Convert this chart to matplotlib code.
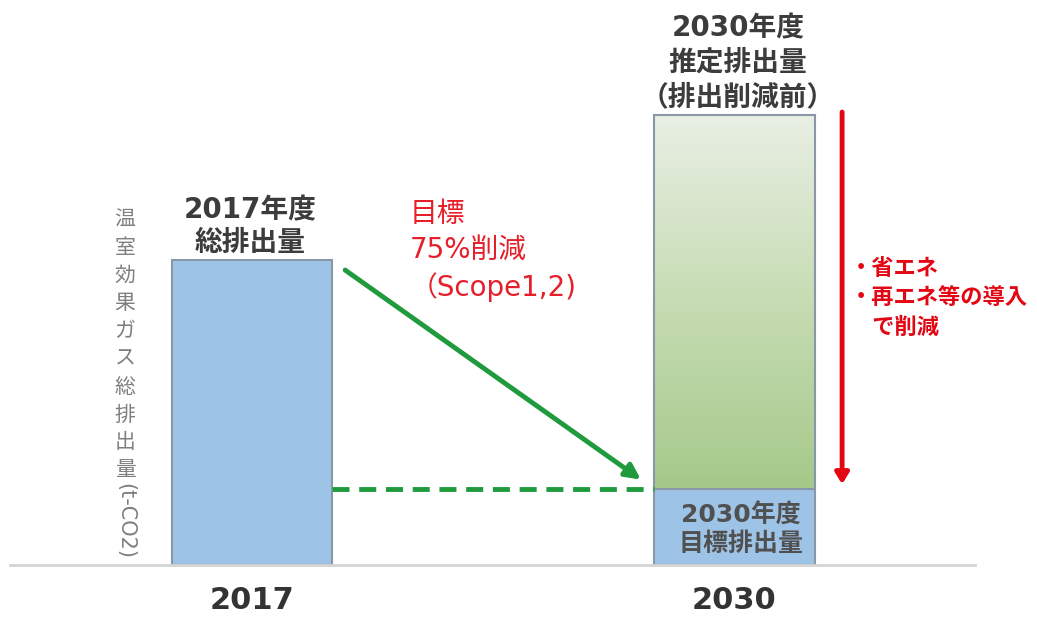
import matplotlib
matplotlib.use("Agg")
import matplotlib.pyplot as plt
import numpy as np
from matplotlib.colors import LinearSegmentedColormap

plt.rcParams['font.family'] = ['DejaVu Sans', 'Noto Sans CJK JP']

# ---- data (relative emissions, 2017 = 100) ----
years = ["2017", "2030"]
total_2017 = 100.0
estimate_2030 = 147.5      # before reduction
target_2030 = 25.0         # 75% reduction
ylabel_chars = list("温室効果ガス総排出量")
ylabel_unit = "(t-CO2)"

W, H = 1037, 620
fig = plt.figure(figsize=(W / 100, H / 100), dpi=100)
# axes placement: baseline at pixel y=565, 3.05 px per unit
XL, XR = (10 - 252) / 482.5, (975 - 252) / 482.5
ax = fig.add_axes([10 / W, 55 / H, (975 - 10) / W, 160 * 3.05 / H])
for s in ["top", "left", "right"]:
    ax.spines[s].set_visible(False)
ax.spines["bottom"].set_color("#d4d4d4")
ax.spines["bottom"].set_linewidth(2)
ax.set_yticks([])
ax.set_xticks([0, 1])
ax.set_xticklabels(years, fontsize=22, fontweight="bold", color="#333333")
ax.tick_params(axis="x", length=0, pad=15)

bw = 0.332
blue = "#9dc3e6"
edge = "#8a97a6"
ax.bar(0, total_2017, width=bw, color=blue, edgecolor=edge, linewidth=1.5, zorder=2)
ax.bar(1, target_2030, width=bw, color=blue, edgecolor=edge, linewidth=1.5, zorder=2)
top_bar = ax.bar(1, estimate_2030 - target_2030, bottom=target_2030, width=bw,
                 color="none", edgecolor=edge, linewidth=1.5, zorder=3)[0]
cmap = LinearSegmentedColormap.from_list("g", ["#a5c98a", "#c6dcb3", "#e9efe4"])
grad = np.linspace(0, 1, 256).reshape(-1, 1)
im = ax.imshow(grad, cmap=cmap, aspect="auto", origin="lower",
               extent=(1 - bw / 2, 1 + bw / 2, target_2030, estimate_2030), zorder=2)
im.set_clip_path(top_bar)
ax.set_xlim(XL, XR)
ax.set_ylim(0, 160)

# green dashed target line and arrow
ax.plot([bw / 2, 1 - bw / 2], [target_2030, target_2030], color="#1f9a3c",
        linewidth=3.5, dashes=(3.5, 2), zorder=4)
ax.annotate("", xy=(0.806, 28.0), xytext=(0.193, 96.7),
            arrowprops=dict(arrowstyle="-|>,head_length=0.9,head_width=0.45",
                            color="#1f9a3c", lw=3.5, shrinkA=0, shrinkB=0), zorder=4)
# red reduction arrow
ax.annotate("", xy=(1.223, 26.5), xytext=(1.223, 148.5),
            arrowprops=dict(arrowstyle="-|>,head_length=0.65,head_width=0.4",
                            color="#e30613", lw=3.5, shrinkA=0, shrinkB=0), zorder=4)

def ft(x, y, s, **kw):
    fig.text(x / W, 1 - y / H, s, **kw)

dark = "#3c3c3c"
ft(250, 227, "2017年度\n総排出量", ha="center", va="center", fontsize=20,
   fontweight="bold", color=dark, linespacing=1.2)
ft(738, 63, "2030年度\n推定排出量\n（排出削減前）", ha="center", va="center", fontsize=20,
   fontweight="bold", color=dark, linespacing=1.3)
ft(741, 530, "2030年度\n目標排出量", ha="center", va="center", fontsize=18,
   fontweight="bold", color="#505050", linespacing=1.2)
ft(410, 251, "目標\n75%削減\n（Scope1,2)", ha="left", va="center", fontsize=20,
   color="#e5202a", linespacing=1.35)
ft(850, 298, "・省エネ\n・再エネ等の導入\n　で削減", ha="left", va="center", fontsize=16,
   fontweight="bold", color="#e30613", linespacing=1.5)

# vertical y label
for i, c in enumerate(ylabel_chars):
    ft(125, 220 + i * 27.8, c, ha="center", va="center", fontsize=15, color="#7f7f7f")
ft(125, 521, ylabel_unit, ha="center", va="center", fontsize=15, color="#7f7f7f",
   rotation=-90)

fig.savefig("out.png", dpi=100)
